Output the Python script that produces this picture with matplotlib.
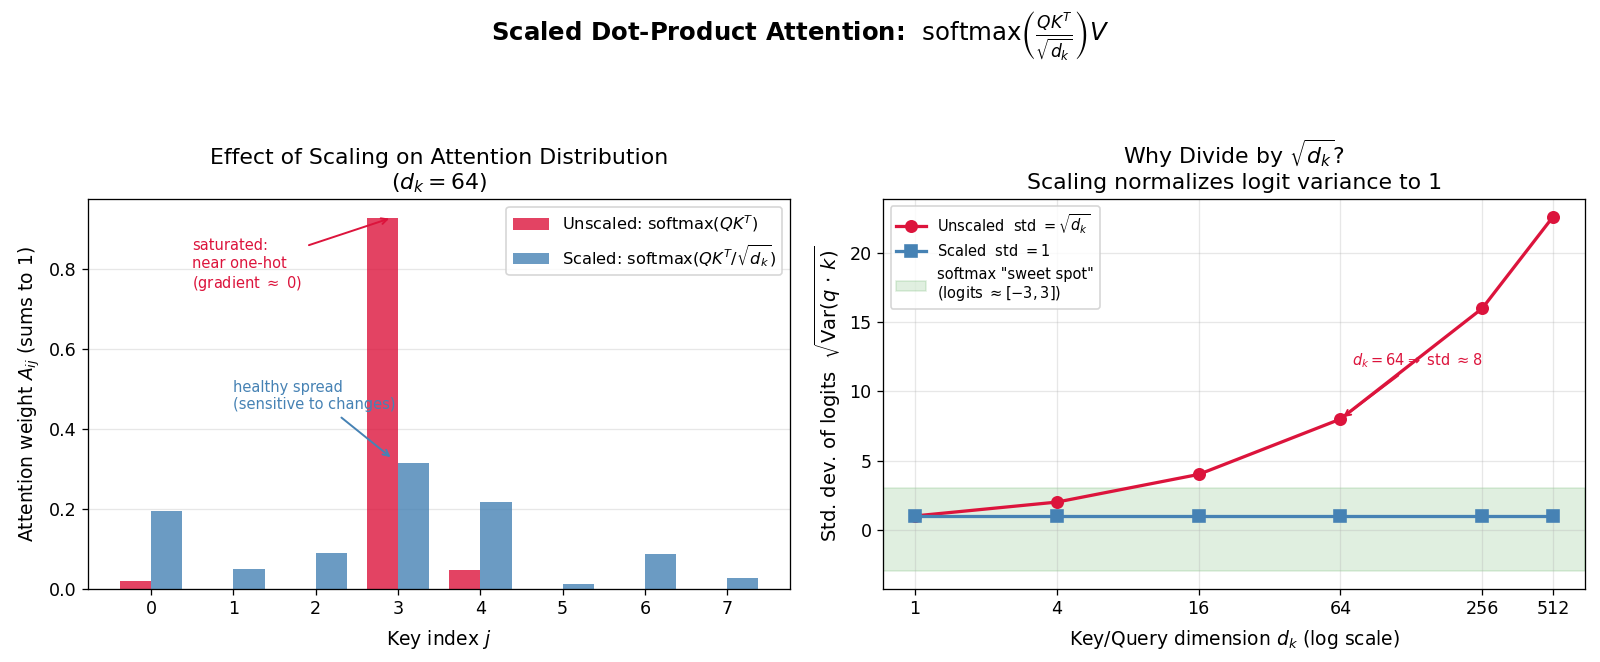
import numpy as np
import matplotlib
matplotlib.use("Agg")
import matplotlib.pyplot as plt

# ---- data ----
key_idx = [0, 1, 2, 3, 4, 5, 6, 7]
unscaled_w = [0.020, 0.0005, 0.0005, 0.930, 0.047, 0.0002, 0.0004, 0.0002]
scaled_w = [0.195, 0.050, 0.090, 0.315, 0.218, 0.013, 0.088, 0.028]

dims = [1, 4, 16, 64, 256, 512]
dim_labels = ["1", "4", "16", "64", "256", "512"]
unscaled_std = [1.0, 2.0, 4.0, 8.0, 16.0, 22.63]
scaled_std = [1.0, 1.0, 1.0, 1.0, 1.0, 1.0]

RED = "#DC143C"
BLUE = "#4682B4"

DPI = 117
fig = plt.figure(figsize=(1600 / DPI, 662 / DPI), dpi=DPI)
ax1 = fig.add_axes([0.055, 0.1103, 0.439, 0.5891])
ax2 = fig.add_axes([0.552, 0.1103, 0.4386, 0.5891])

fig.suptitle(r"Scaled Dot-Product Attention:  $\mathrm{softmax}\left(\frac{QK^T}{\sqrt{d_k}}\right)V$",
             fontsize=15, fontweight="bold", y=0.986, va="top")

# ---- left panel ----
w = 0.38
x = np.array(key_idx)
ax1.bar(x - w / 2, unscaled_w, w, color=RED, alpha=0.8, label=r"Unscaled: softmax$(QK^T)$")
ax1.bar(x + w / 2, scaled_w, w, color=BLUE, alpha=0.8, label=r"Scaled: softmax$(QK^T/\sqrt{d_k})$")
ax1.set_xticks(key_idx)
ax1.tick_params(labelsize=10.8)
ax1.set_xlabel(r"Key index $j$", fontsize=11.5, labelpad=6)
ax1.set_ylabel(r"Attention weight $A_{ij}$ (sums to 1)", fontsize=11.5)
ax1.set_title("Effect of Scaling on Attention Distribution\n" + r"($d_k = 64$)", fontsize=13.5)
ax1.grid(axis="y", alpha=0.3)
ax1.set_axisbelow(True)
ax1.legend(loc="upper right", fontsize=10, handlelength=2.2)
ax1.annotate("saturated:\nnear one-hot\n" + r"(gradient $\approx$ 0)",
             xy=(2.93, 0.93), xytext=(0.5, 0.81), ha="left", va="center",
             fontsize=9, color=RED,
             arrowprops=dict(arrowstyle="->", color=RED, lw=1.2))
ax1.annotate("healthy spread\n(sensitive to changes)",
             xy=(2.94, 0.325), xytext=(1.0, 0.483), ha="left", va="center",
             fontsize=9, color=BLUE,
             arrowprops=dict(arrowstyle="->", color=BLUE, lw=1.2))

# ---- right panel ----
ax2.axhspan(-3, 3, color="green", alpha=0.12,
            label='softmax "sweet spot"\n' + r"(logits $\approx [-3, 3]$)")
ax2.plot(dims, unscaled_std, "-o", color=RED, lw=2, markersize=7,
         label=r"Unscaled  std $= \sqrt{d_k}$")
ax2.plot(dims, scaled_std, "-s", color=BLUE, lw=2, markersize=7,
         label=r"Scaled  std $= 1$")
ax2.set_xscale("log", base=2)
ax2.set_xticks(dims)
ax2.set_xticklabels(dim_labels)
ax2.xaxis.set_minor_locator(matplotlib.ticker.NullLocator())
ax2.tick_params(labelsize=10.8)
ax2.set_xlabel(r"Key/Query dimension $d_k$ (log scale)", fontsize=11.5, labelpad=6)
ax2.set_ylabel(r"Std. dev. of logits  $\sqrt{\mathrm{Var}(q \,\cdot\, k)}$", fontsize=12)
ax2.set_title(r"Why Divide by $\sqrt{d_k}$?" + "\nScaling normalizes logit variance to 1", fontsize=13.5)
ax2.grid(alpha=0.3)
ax2.annotate(r"$d_k = 64 \Rightarrow$ std $\approx 8$", xy=(64, 8), xytext=(72, 12.2),
             ha="left", va="center", fontsize=9, color=RED,
             arrowprops=dict(arrowstyle="->", color=RED, lw=1.2))
h, l = ax2.get_legend_handles_labels()
order = [1, 2, 0]
ax2.legend([h[i] for i in order], [l[i] for i in order], loc="upper left", fontsize=9)

fig.savefig("out.png", dpi=DPI)
